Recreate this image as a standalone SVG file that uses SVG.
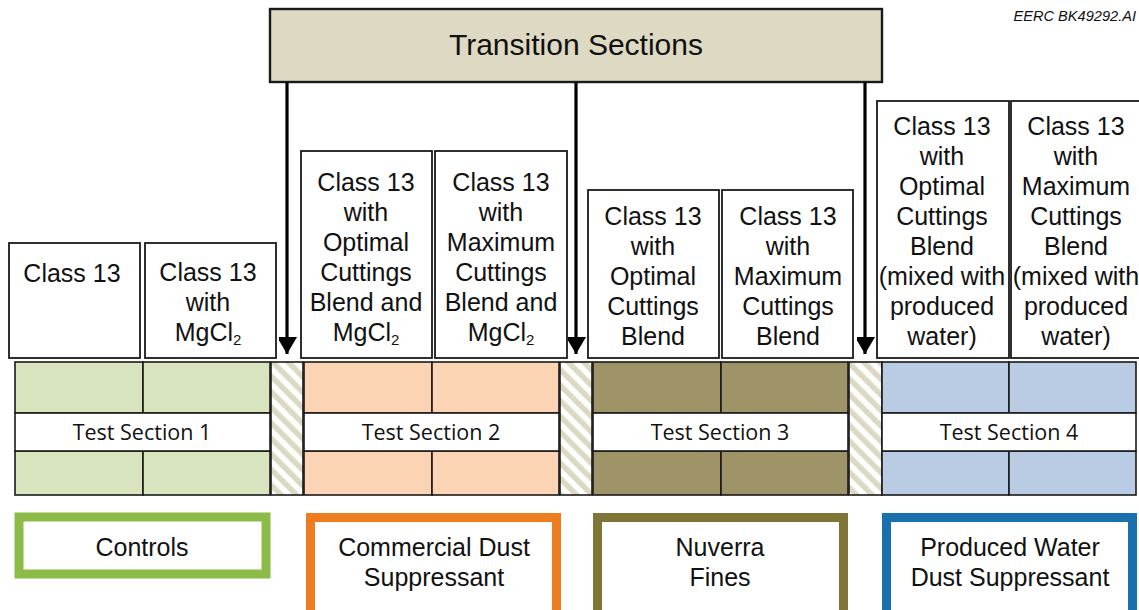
<svg xmlns="http://www.w3.org/2000/svg" width="1139" height="610" viewBox="0 0 1139 610">
  <defs>
    <pattern id="hatch" patternUnits="userSpaceOnUse" width="11" height="11" patternTransform="rotate(-45)">
      <rect width="11" height="11" fill="#ffffff"/>
      <rect width="5.5" height="11" fill="#dcd8c2"/>
    </pattern>
    <marker id="arrow" markerWidth="20" markerHeight="18" refX="17" refY="10" orient="auto" markerUnits="userSpaceOnUse">
      <path d="M0,0 L17,10 L0,20 Z" fill="#000"/>
    </marker>
  </defs>
  <style>
    .box { fill: #ffffff; stroke: #1a1a1a; stroke-width: 1.8; }
    .cell { stroke: #1a1a1a; stroke-width: 1.6; }
    .band { fill: #ffffff; stroke: #1a1a1a; stroke-width: 1.6; }
    .hatch { fill: url(#hatch); stroke: #1a1a1a; stroke-width: 1.6; }
    .t { font-family: "Liberation Sans", Arial, sans-serif; font-size: 25px; fill: #111; text-anchor: middle; }
    .ts { font-family: "Open Sans", "Noto Sans", sans-serif; font-size: 21.5px; fill: #111; text-anchor: middle; }
    .leg { fill: #ffffff; stroke-width: 9; }
    .conn { stroke: #000; stroke-width: 3.2; fill: none; }
  </style>

  <rect width="1139" height="610" fill="#ffffff"/>

  <text x="1136" y="21" font-family="'Liberation Sans', Arial, sans-serif" font-size="14.6" font-style="italic" text-anchor="end" fill="#111">EERC BK49292.AI</text>

  <!-- header -->
  <g id="transition-sections">
    <rect x="270" y="9" width="612" height="73" fill="#ddd9c3" stroke="#1a1a1a" stroke-width="2.4"/>
    <text x="576" y="55" font-family="'Liberation Sans', Arial, sans-serif" font-size="30" text-anchor="middle" fill="#111">Transition Sections</text>
  </g>

  <!-- arrows down to each transition strip -->
  <g id="connectors">
    <line class="conn" x1="287" y1="82" x2="287" y2="354" marker-end="url(#arrow)"/>
    <line class="conn" x1="576" y1="82" x2="576" y2="354" marker-end="url(#arrow)"/>
    <line class="conn" x1="865" y1="82" x2="865" y2="354" marker-end="url(#arrow)"/>
  </g>

  <!-- test section 1 -->
  <g id="ts1-a">
    <rect class="box" x="9" y="243" width="131" height="115"/>
    <text class="t" x="72" y="282">Class 13</text>
  </g>
  <g id="ts1-b">
    <rect class="box" x="145" y="243" width="131" height="115"/>
    <text class="t" x="208" y="281">Class 13</text>
    <text class="t" x="208" y="311">with</text>
    <text class="t" x="208" y="341">MgCl<tspan font-size="15" dy="4">2</tspan></text>
  </g>
  <g id="ts1-strip">
    <rect class="cell" x="15" y="362" width="128" height="51" fill="#d7e4bd"/>
    <rect class="cell" x="143" y="362" width="127" height="51" fill="#d7e4bd"/>
    <rect class="cell" x="15" y="451" width="128" height="44" fill="#d7e4bd"/>
    <rect class="cell" x="143" y="451" width="127" height="44" fill="#d7e4bd"/>
    <rect class="band" x="15" y="413" width="255" height="38"/>
    <text class="ts" x="142" y="440">Test Section 1</text>
  </g>
  <rect id="tr1" class="hatch" x="271" y="362" width="32" height="133"/>

  <!-- test section 2 -->
  <g id="ts2-a">
    <rect class="box" x="301" y="151" width="131" height="207"/>
    <text class="t" x="366" y="191">Class 13</text>
    <text class="t" x="366" y="221">with</text>
    <text class="t" x="366" y="251">Optimal</text>
    <text class="t" x="366" y="281">Cuttings</text>
    <text class="t" x="366" y="311">Blend and</text>
    <text class="t" x="366" y="341">MgCl<tspan font-size="15" dy="4">2</tspan></text>
  </g>
  <g id="ts2-b">
    <rect class="box" x="435" y="151" width="132" height="207"/>
    <text class="t" x="501" y="191">Class 13</text>
    <text class="t" x="501" y="221">with</text>
    <text class="t" x="501" y="251">Maximum</text>
    <text class="t" x="501" y="281">Cuttings</text>
    <text class="t" x="501" y="311">Blend and</text>
    <text class="t" x="501" y="341">MgCl<tspan font-size="15" dy="4">2</tspan></text>
  </g>
  <g id="ts2-strip">
    <rect class="cell" x="304" y="362" width="128" height="51" fill="#fbd4b4"/>
    <rect class="cell" x="432" y="362" width="127" height="51" fill="#fbd4b4"/>
    <rect class="cell" x="304" y="451" width="128" height="44" fill="#fbd4b4"/>
    <rect class="cell" x="432" y="451" width="127" height="44" fill="#fbd4b4"/>
    <rect class="band" x="304" y="413" width="255" height="38"/>
    <text class="ts" x="431" y="440">Test Section 2</text>
  </g>
  <rect id="tr2" class="hatch" x="560" y="362" width="32" height="133"/>

  <!-- test section 3 -->
  <g id="ts3-a">
    <rect class="box" x="588" y="190" width="131" height="168"/>
    <text class="t" x="653" y="225">Class 13</text>
    <text class="t" x="653" y="255">with</text>
    <text class="t" x="653" y="285">Optimal</text>
    <text class="t" x="653" y="315">Cuttings</text>
    <text class="t" x="653" y="345">Blend</text>
  </g>
  <g id="ts3-b">
    <rect class="box" x="722" y="190" width="131" height="168"/>
    <text class="t" x="788" y="225">Class 13</text>
    <text class="t" x="788" y="255">with</text>
    <text class="t" x="788" y="285">Maximum</text>
    <text class="t" x="788" y="315">Cuttings</text>
    <text class="t" x="788" y="345">Blend</text>
  </g>
  <g id="ts3-strip">
    <rect class="cell" x="593" y="362" width="128" height="51" fill="#9f9467"/>
    <rect class="cell" x="721" y="362" width="127" height="51" fill="#9f9467"/>
    <rect class="cell" x="593" y="451" width="128" height="44" fill="#9f9467"/>
    <rect class="cell" x="721" y="451" width="127" height="44" fill="#9f9467"/>
    <rect class="band" x="593" y="413" width="255" height="38"/>
    <text class="ts" x="720" y="440">Test Section 3</text>
  </g>
  <rect id="tr3" class="hatch" x="849" y="362" width="33" height="133"/>

  <!-- test section 4 -->
  <g id="ts4-a">
    <rect class="box" x="877" y="101" width="132" height="257"/>
    <text class="t" x="942" y="135">Class 13</text>
    <text class="t" x="942" y="165">with</text>
    <text class="t" x="942" y="195">Optimal</text>
    <text class="t" x="942" y="225">Cuttings</text>
    <text class="t" x="942" y="255">Blend</text>
    <text class="t" x="942" y="285">(mixed with</text>
    <text class="t" x="942" y="315">produced</text>
    <text class="t" x="942" y="345">water)</text>
  </g>
  <g id="ts4-b">
    <rect class="box" x="1011" y="101" width="132" height="257"/>
    <text class="t" x="1076" y="135">Class 13</text>
    <text class="t" x="1076" y="165">with</text>
    <text class="t" x="1076" y="195">Maximum</text>
    <text class="t" x="1076" y="225">Cuttings</text>
    <text class="t" x="1076" y="255">Blend</text>
    <text class="t" x="1076" y="285">(mixed with</text>
    <text class="t" x="1076" y="315">produced</text>
    <text class="t" x="1076" y="345">water)</text>
  </g>
  <g id="ts4-strip">
    <rect class="cell" x="882" y="362" width="127" height="51" fill="#b9cce4"/>
    <rect class="cell" x="1009" y="362" width="127" height="51" fill="#b9cce4"/>
    <rect class="cell" x="882" y="451" width="127" height="44" fill="#b9cce4"/>
    <rect class="cell" x="1009" y="451" width="127" height="44" fill="#b9cce4"/>
    <rect class="band" x="882" y="413" width="254" height="38"/>
    <text class="ts" x="1009" y="440">Test Section 4</text>
  </g>

  <!-- legend -->
  <g id="legend-controls">
    <rect class="leg" x="19" y="517" width="247" height="57" stroke="#8cbb47"/>
    <text class="t" x="142" y="556">Controls</text>
  </g>
  <g id="legend-commercial">
    <rect class="leg" x="310.5" y="517.5" width="246" height="100" stroke="#ee7d22"/>
    <text class="t" x="434" y="556">Commercial Dust</text>
    <text class="t" x="434" y="586">Suppressant</text>
  </g>
  <g id="legend-nuverra">
    <rect class="leg" x="597.5" y="517.5" width="246" height="100" stroke="#7e7536"/>
    <text class="t" x="720" y="556">Nuverra</text>
    <text class="t" x="720" y="586">Fines</text>
  </g>
  <g id="legend-produced">
    <rect class="leg" x="886.5" y="517.5" width="246" height="100" stroke="#1a70ad"/>
    <text class="t" x="1010" y="556">Produced Water</text>
    <text class="t" x="1010" y="586">Dust Suppressant</text>
  </g>
</svg>
